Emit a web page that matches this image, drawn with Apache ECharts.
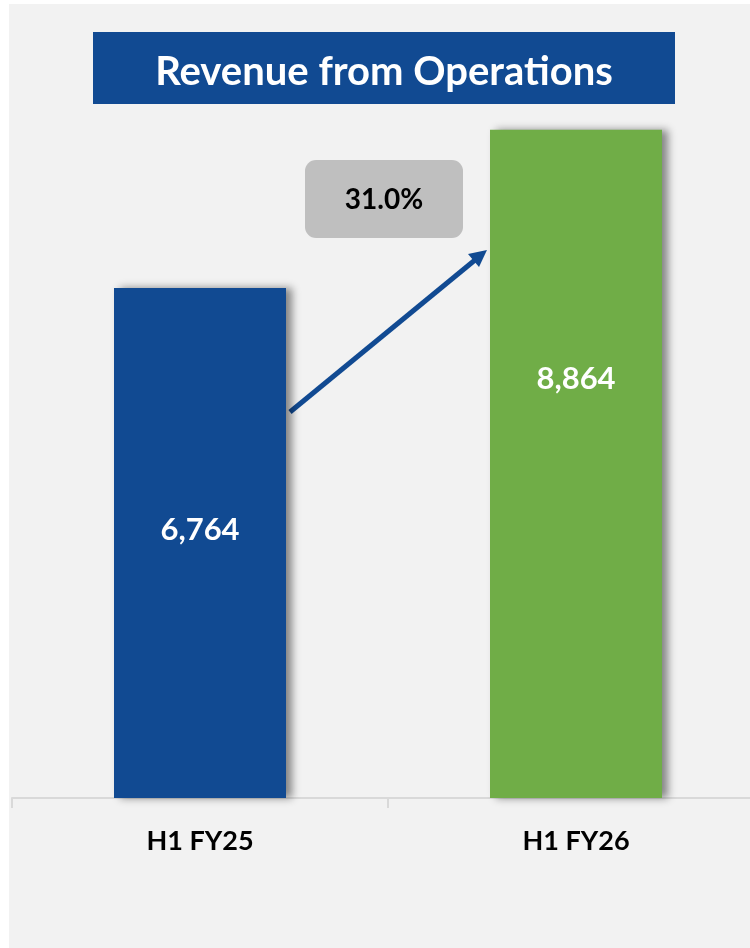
<!DOCTYPE html>
<html>
<head>
<meta charset="utf-8">
<script src="https://cdn.jsdelivr.net/npm/echarts@6/dist/echarts.min.js"></script>
<style>
  html, body { margin: 0; padding: 0; background: #ffffff; }
  .panel { position: absolute; left: 9px; top: 4px; width: 741px; height: 944px; background: #f2f2f2; }
  #chart { position: absolute; left: 0; top: 0; width: 750px; height: 948px; }
</style>
</head>
<body>
<div class="panel"></div>
<div id="chart"></div>
<script>
// data
const categories = ["H1 FY25", "H1 FY26"];
const revenue = [6764, 8864];
const barColors = ["#114a92", "#70ad47"];
const titleText = "Revenue from Operations";

const FONT = "Lato, 'Noto Sans', sans-serif";
const growth = ((revenue[1] / revenue[0] - 1) * 100).toFixed(1) + "%";

let myChart = echarts.init(document.getElementById("chart"), null, { renderer: "canvas" });

// label offsets so numbers sit where the original put them
const labelShift = [[0, -13], [0, -85]];

let option = {
  backgroundColor: "transparent",
  animation: false,
  grid: { left: 12, width: 752, top: 44, bottom: 150, outerBoundsMode: "none" },
  xAxis: {
    type: "category",
    data: categories,
    axisLine: { lineStyle: { color: "#d9d9d9", width: 2 } },
    axisTick: { show: true, length: 10, lineStyle: { color: "#d9d9d9", width: 2 } },
    axisLabel: {
      margin: 30,
      color: "#000000",
      fontFamily: FONT,
      fontWeight: "bold",
      fontSize: 27
    }
  },
  yAxis: {
    type: "value",
    min: 0,
    max: 10000,
    show: false,
    splitLine: { show: false }
  },
  series: [
    {
      type: "bar",
      barWidth: 172,
      data: revenue.map(function (v, i) {
        return {
          value: v,
          itemStyle: { color: barColors[i] },
          label: { offset: labelShift[i] }
        };
      }),
      itemStyle: {
        shadowColor: "rgba(0,0,0,0.45)",
        shadowBlur: 8,
        shadowOffsetX: 6,
        shadowOffsetY: 0
      },
      label: {
        show: true,
        position: "inside",
        color: "#ffffff",
        fontFamily: FONT,
        fontWeight: "bold",
        fontSize: 31,
        formatter: function (p) {
          return p.value.toLocaleString("en-US");
        }
      }
    }
  ],
  graphic: [
    {
      type: "rect",
      shape: { x: 93, y: 32, width: 582, height: 72 },
      style: { fill: "#114a92" }
    },
    {
      type: "text",
      x: 384,
      y: 72,
      style: {
        text: titleText,
        fill: "#ffffff",
        font: "bold 40px " + FONT,
        align: "center",
        verticalAlign: "middle"
      }
    },
    {
      type: "rect",
      shape: { x: 305, y: 160, width: 158, height: 78, r: 11 },
      style: { fill: "#bfbfbf" }
    },
    {
      type: "text",
      x: 384,
      y: 200,
      style: {
        text: growth,
        fill: "#000000",
        font: "bold 28px " + FONT,
        align: "center",
        verticalAlign: "middle"
      }
    },
    {
      type: "line",
      shape: { x1: 290, y1: 412, x2: 475, y2: 260 },
      style: { stroke: "#114a92", lineWidth: 5 }
    },
    {
      type: "polygon",
      shape: { points: [[487, 250], [479, 267], [468, 254]] },
      style: { fill: "#114a92" }
    }
  ]
};
myChart.setOption(option);
</script>
</body>
</html>
